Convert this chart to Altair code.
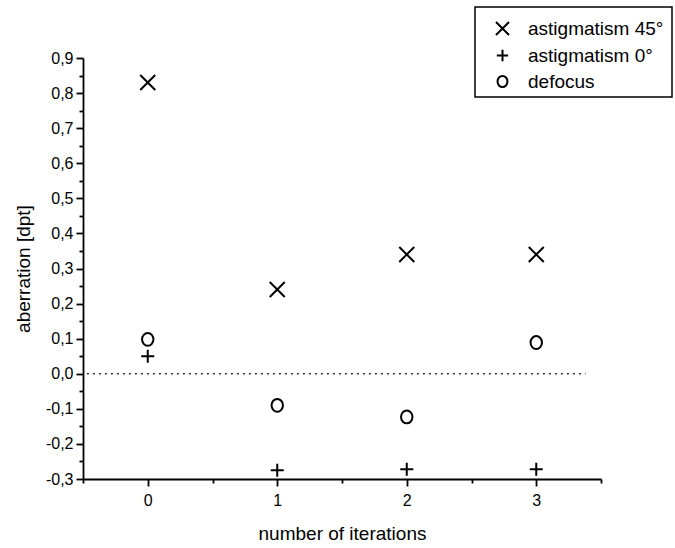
import altair as alt
import pandas as pd

# ---- data ----
iterations = [0, 1, 2, 3]
astig45 = [0.83, 0.24, 0.34, 0.34]
astig0 = [0.05, -0.275, -0.272, -0.272]
defocus = [0.098, -0.09, -0.123, 0.089]
series_names = ["astigmatism 45°", "astigmatism 0°", "defocus"]

y_major_ticks = [-0.3, -0.2, -0.1, 0.0, 0.1, 0.2, 0.3, 0.4, 0.5, 0.6, 0.7, 0.8, 0.9]
y_minor_ticks = [-0.25, -0.15, -0.05, 0.05, 0.15, 0.25, 0.35, 0.45, 0.55, 0.65, 0.75, 0.85]
x_major_ticks = [0, 1, 2, 3]
x_minor_ticks = [-0.5, 0.5, 1.5, 2.5, 3.5]

zero_line = {"x": [-0.47], "x2": [3.38], "y": [0.0]}

rows = []
for name, vals in zip(series_names, [astig45, astig0, defocus]):
    for it, v in zip(iterations, vals):
        rows.append({"iter": it, "value": v, "series": name})
df = pd.DataFrame(rows)

X_PATH = "M-1,-1L1,1M-1,1L1,-1"
PLUS_PATH = "M-0.87,0L0.87,0M0,-0.87L0,0.87"
CIRCLE_PATH = "M-0.76,0A0.76,0.86,0,1,1,0.76,0A0.76,0.86,0,1,1,-0.76,0Z"

FONT = "Liberation Sans"

x_scale = alt.Scale(domain=[-0.5, 3.5], nice=False, zero=False)
y_scale = alt.Scale(domain=[-0.3, 0.9], nice=False, zero=False)

common = dict(
    domainColor="black", domainWidth=1.8, tickColor="black", tickWidth=1.8,
    labelFont=FONT, labelFontSize=16, labelColor="black",
    titleFont=FONT, titleFontSize=19, titleFontWeight="normal", titleColor="black",
    labelOverlap=False, labelFlush=False, grid=False,
)

y_axis = alt.Axis(
    orient="left",
    values=y_major_ticks,
    title="aberration [dpt]",
    labelExpr="(datum.value < -0.001 ? '-' : '') + replace(format(abs(datum.value), '.1f'), '.', ',')",
    tickSize=7,
    labelPadding=3,
    titlePadding=12,
    **common,
)
x_axis = alt.Axis(
    orient="bottom",
    values=x_major_ticks,
    title="number of iterations",
    format="d",
    tickSize=7,
    labelPadding=6,
    titlePadding=16,
    **common,
)
y_minor_axis = alt.Axis(
    values=y_minor_ticks, labels=False, title=None, tickSize=4, domain=False,
    tickColor="black", tickWidth=1.8, grid=False, orient="left",
)
x_minor_axis = alt.Axis(
    values=x_minor_ticks, labels=False, title=None, tickSize=4, domain=False,
    tickColor="black", tickWidth=1.8, grid=False, orient="bottom",
)

points = alt.Chart(df).mark_point(
    filled=False, color="black", strokeWidth=2, size=225, opacity=1
).encode(
    x=alt.X("iter:Q", scale=x_scale, axis=x_axis),
    y=alt.Y("value:Q", scale=y_scale, axis=y_axis),
    shape=alt.Shape(
        "series:N",
        scale=alt.Scale(domain=series_names, range=[X_PATH, PLUS_PATH, CIRCLE_PATH]),
        legend=alt.Legend(
            title=None,
            orient="none",
            legendX=410,
            legendY=-39,
            labelFontSize=19,
            labelFont=FONT,
            labelColor="black",
            labelOffset=16,
            symbolSize=170,
            symbolStrokeWidth=2,
            symbolStrokeColor="black",
            symbolFillColor="transparent",
            rowPadding=5,
            padding=0,
        ),
    ),
)

zero = alt.Chart(pd.DataFrame(zero_line)).mark_rule(
    strokeDash=[2, 4], color="#333333", strokeWidth=1.5
).encode(
    x=alt.X("x:Q", scale=x_scale, axis=x_minor_axis),
    x2="x2:Q",
    y=alt.Y("y:Q", scale=y_scale, axis=y_minor_axis),
)

frame = alt.Chart(pd.DataFrame({"a": [0]})).mark_rect(
    fillOpacity=0, stroke="black", strokeWidth=1.5
).encode(
    x=alt.value(392), x2=alt.value(589), y=alt.value(-51), y2=alt.value(39)
)

chart = alt.layer(zero, points, frame).resolve_axis(
    x="independent", y="independent"
).properties(
    width=518,
    height=421,
    autosize=alt.AutoSizeParams(type="none"),
    padding={"left": 83, "top": 58, "right": 74, "bottom": 69},
    background="white",
).configure_view(stroke=None)

chart.save("out.html", embed_options={"renderer": "svg", "actions": False})
